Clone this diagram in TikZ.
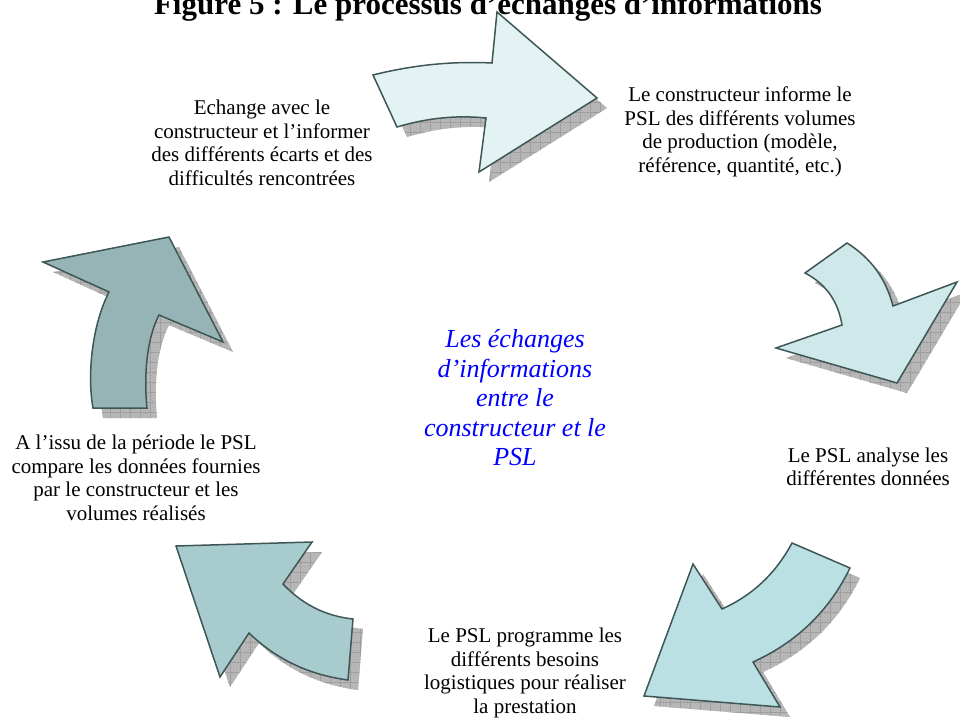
\documentclass[tikz,border=0pt]{standalone}
\usepackage{fontspec}
\setmainfont{Liberation Serif}
\usetikzlibrary{patterns,patterns.meta}
\definecolor{ea}{HTML}{E3F3F3}
\definecolor{eb}{HTML}{CFE9EB}
\definecolor{ec}{HTML}{BAE0E4}
\definecolor{ed}{HTML}{A8CBCE}
\definecolor{ee}{HTML}{96B4B6}
\definecolor{o}{HTML}{3F5656}
\tikzstyle{txt}=[align=center,font=\fontsize{21}{23.5}\selectfont]
\tikzstyle{mid}=[align=center,text=blue,font=\fontsize{26}{29.5}\selectfont\itshape]
\tikzstyle{body}=[draw=o,line width=1.5pt,line join=miter]
\tikzstyle{shadowpart}=[fill=gray!50,shift={(10,10)},
	postaction={pattern=crosshatch,pattern color=gray!62},
	postaction={pattern={Lines[angle=0,distance=10pt,line width=.6pt]},pattern color=gray!75},
	postaction={pattern={Lines[angle=90,distance=10pt,line width=.6pt]},pattern color=gray!75}]
% outlines of the five bent arrows
\newcommand{\pathA}{(373,75) .. controls (413,65) and (452,61) .. (492,63) -- (497,12) -- (597,98) -- (479,172) -- (486,118) .. controls (456,115) and (427,118) .. (397,127) -- cycle}
\newcommand{\pathB}{(805,273) -- (847,243) .. controls (871,258) and (886,279) .. (893,306) -- (957,282) -- (897,383) -- (776,348) -- (842,325) .. controls (838,301) and (826,284) .. (805,273) -- cycle}
\newcommand{\pathC}{(792,543) -- (850,568) .. controls (829,611) and (797,642) .. (753,662) -- (780,707) -- (644,696) -- (693,564) -- (722,609) .. controls (753,595) and (776,573) .. (792,543) -- cycle}
\newcommand{\pathD}{(176,546) -- (312,542) -- (283,584) .. controls (302,604) and (325,616) .. (353,619) -- (348,680) .. controls (310,675) and (277,660) .. (249,633) -- (220,677) -- cycle}
\newcommand{\pathE}{(93,408) -- (147,408) .. controls (144,378) and (146,340) .. (159,315) -- (223,342) -- (169,237) -- (43,262) -- (109,292) .. controls (92,325) and (87,375) .. (93,408) -- cycle}

\begin{document}
\begin{tikzpicture}[x=1pt,y=-1pt]
	\useasboundingbox (0,0) rectangle (960,722);
	\node[anchor=base,font=\fontsize{31}{36}\selectfont\bfseries] (title) at (488,15) {Figure 5 : Le processus d’échanges d’informations};

	\fill[shadowpart] \pathA;
	\draw[body,fill=ea] \pathA;
	\fill[shadowpart] \pathB;
	\draw[body,fill=eb] \pathB;
	\fill[shadowpart] \pathC;
	\draw[body,fill=ec] \pathC;
	\fill[shadowpart] \pathD;
	\draw[body,fill=ed] \pathD;
	\fill[shadowpart] \pathE;
	\draw[body,fill=ee] \pathE;

	\node[txt] (echange) at (262,143) {Echange avec le\\constructeur et l’informer\\des différents écarts et des\\difficultés rencontrées};
	\node[txt] (informe) at (740,132) {Le constructeur informe le\\PSL des différents volumes\\de production (modèle,\\référence, quantité, etc.)};
	\node[txt] (analyse) at (868,467) {Le PSL analyse les\\différentes données};
	\node[txt] (programme) at (525,673) {Le PSL programme les\\différents besoins\\logistiques pour réaliser\\la prestation};
	\node[txt] (compare) at (136,478) {A l’issu de la période le PSL\\compare les données fournies\\par le constructeur et les\\volumes réalisés};
	\node[mid] (centre) at (515,398) {Les échanges\\d’informations\\entre le\\constructeur et le\\PSL};
\end{tikzpicture}
\end{document}
